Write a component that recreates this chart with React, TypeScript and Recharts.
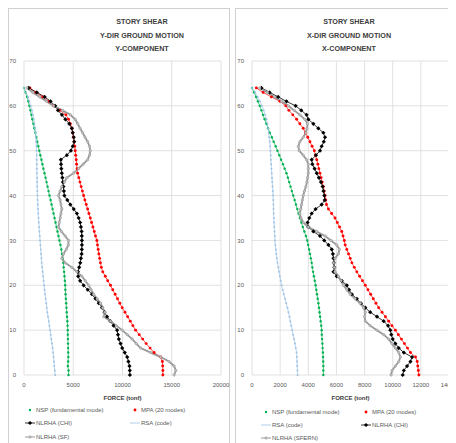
import React from 'react'
import { LineChart, Line, XAxis, YAxis, CartesianGrid, Label } from 'recharts'

// story levels, bottom to top
const STORIES = [
  0, 1, 2, 3, 4, 5, 6, 7, 8, 9, 10, 11, 12, 13, 14, 15, 16, 17, 18, 19, 20,
  21, 22, 23, 24, 25, 26, 27, 28, 29, 30, 31, 32, 33, 34, 35, 36, 37, 38, 39, 40,
  41, 42, 43, 44, 45, 46, 47, 48, 49, 50, 51, 52, 53, 54, 55, 56, 57, 58, 59, 60,
  61, 62, 63, 64,
]

// ── Y-dir ground motion, Y-component (tonf) ──
const Y_NSP = [
  4520, 4520, 4450, 4480, 4500, 4490, 4480, 4470, 4460, 4450, 4440, 4420, 4400, 4370, 4340, 4310,
  4280, 4250, 4220, 4200, 4180, 4150, 4110, 4070, 4030, 3990, 3930, 3860, 3790, 3700, 3600, 3500,
  3400, 3300, 3200, 3100, 3000, 2900, 2800, 2700, 2590, 2490, 2390, 2290, 2190, 2080, 1970, 1870,
  1770, 1660, 1560, 1450, 1350, 1250, 1150, 1050, 950, 850, 750, 650, 540, 430, 310, 170, 0,
]
const Y_MPA = [
  14100, 14100, 14080, 14050, 13880, 13200, 12800, 12400, 12050, 11700, 11330, 11060, 10790, 10520,
  10250, 9970, 9730, 9490, 9250, 9010, 8780, 8500, 8250, 8000, 7850, 7760, 7680, 7600, 7530, 7460,
  7400, 7260, 7130, 7000, 6860, 6730, 6590, 6460, 6320, 6180, 6050, 5930, 5800, 5680, 5560, 5440,
  5390, 5340, 5300, 5250, 5200, 5150, 5090, 5020, 4950, 4860, 4700, 4520, 4250, 3650, 3000, 2500,
  1900, 1200, 600,
]
const Y_CHI = [
  10750, 10740, 10710, 10600, 10480, 10230, 9970, 9800, 9630, 9540, 9450, 9100, 8770, 8430, 8170,
  7920, 7590, 7250, 6900, 6470, 6050, 5700, 5500, 5480, 5600, 5710, 5780, 5850, 5870, 5880, 5880,
  5870, 5850, 5780, 5700, 5550, 5370, 5050, 4700, 4400, 4100, 4050, 4000, 3950, 3900, 3840, 3790,
  3760, 3740, 4350, 4760, 4950, 5100, 5050, 4950, 4860, 4600, 4200, 3850, 3450, 3160, 2700, 2100,
  1300, 480,
]
const Y_RSA = [
  3160, 3120, 3080, 3040, 3000, 2960, 2900, 2840, 2770, 2710, 2650, 2580, 2510, 2440, 2370, 2310,
  2250, 2200, 2140, 2090, 2040, 1990, 1940, 1890, 1850, 1800, 1770, 1730, 1700, 1660, 1630, 1600,
  1560, 1530, 1500, 1470, 1440, 1420, 1400, 1380, 1360, 1350, 1340, 1330, 1320, 1310, 1300, 1300,
  1290, 1290, 1280, 1260, 1230, 1200, 1160, 1120, 1060, 990, 900, 800, 680, 550, 400, 220, 0,
]
const Y_SF = [
  15240, 15410, 15240, 14730, 13880, 12860, 11840, 11400, 10990, 10480, 9970, 9370, 8780, 8100,
  8200, 7990, 7760, 7420, 7070, 6810, 6560, 6220, 5880, 5370, 4860, 4180, 3840, 4010, 4290, 4500,
  4520, 4180, 3800, 3500, 3580, 3670, 3750, 3840, 3750, 3670, 3500, 3670, 3840, 4100, 4350, 5030,
  5540, 6000, 6460, 6650, 6730, 6650, 6460, 6200, 5950, 5700, 5450, 5200, 4700, 3900, 3000, 2300,
  1600, 900, 300,
]

// ── X-dir ground motion, X-component (tonf) ──
const X_NSP = [
  5070, 5070, 5070, 5060, 5050, 5040, 5020, 5000, 4980, 4960, 4950, 4920, 4880, 4840, 4800, 4760,
  4720, 4670, 4620, 4570, 4520, 4460, 4400, 4340, 4290, 4240, 4180, 4120, 4060, 3990, 3930, 3830,
  3720, 3610, 3510, 3400, 3310, 3220, 3120, 3030, 2930, 2830, 2740, 2640, 2550, 2450, 2320, 2200,
  2070, 1940, 1810, 1680, 1540, 1410, 1270, 1140, 1020, 900, 780, 670, 550, 420, 290, 150, 0,
]
const X_MPA = [
  11860, 11820, 11780, 11740, 11620, 11260, 11050, 10830, 10620, 10400, 10190, 9950, 9710, 9480,
  9240, 9000, 8810, 8620, 8430, 8240, 8050, 7850, 7650, 7450, 7270, 7100, 6980, 6860, 6740, 6620,
  6560, 6470, 6380, 6220, 6060, 5900, 5660, 5430, 5290, 5240, 5190, 5130, 5070, 4990, 4910, 4830,
  4750, 4680, 4600, 4510, 4430, 4270, 4120, 3960, 3800, 3640, 3400, 3170, 2900, 2620, 2400, 1980,
  1380, 790, 310,
]
const X_RSA = [
  3240, 3230, 3210, 3200, 3190, 3170, 3110, 3050, 2990, 2920, 2860, 2790, 2720, 2660, 2590, 2520,
  2430, 2350, 2260, 2180, 2100, 2040, 1980, 1920, 1870, 1810, 1770, 1730, 1700, 1660, 1630, 1620,
  1600, 1580, 1560, 1550, 1540, 1530, 1520, 1510, 1500, 1480, 1460, 1440, 1420, 1400, 1380, 1360,
  1340, 1330, 1310, 1290, 1260, 1220, 1180, 1140, 1100, 1030, 940, 830, 700, 560, 400, 220, 0,
]
const X_CHI = [
  10710, 10790, 11020, 11260, 11380, 10790, 10430, 10190, 10000, 9900, 9830, 9670, 9360, 8880,
  8400, 8050, 7740, 7450, 7100, 6900, 6740, 6380, 6020, 5790, 5850, 5810, 5790, 5750, 5670, 5430,
  5130, 4830, 4360, 4000, 3950, 4070, 4240, 4520, 4950, 5170, 5140, 5080, 5020, 4900, 4750, 4600,
  4450, 4290, 4240, 4550, 4830, 4950, 5100, 5190, 5070, 4710, 4360, 4000, 3880, 3500, 3100, 2450,
  1860, 1250, 670,
]
const X_SFERN = [
  9880, 9950, 10190, 10430, 10550, 10430, 10190, 9950, 9710, 9360, 8880, 8400, 8050, 8000, 8050,
  7930, 7690, 7330, 6980, 6740, 6500, 6330, 6140, 5900, 5850, 5790, 5900, 6140, 6210, 6020, 5610,
  5190, 4600, 4000, 3640, 3480, 3400, 3460, 3520, 3580, 3640, 3730, 3830, 3900, 3950, 4000, 4000,
  4000, 3880, 3640, 3360, 3290, 3400, 3640, 3830, 3900, 3950, 3760, 3400, 3000, 2570, 2100, 1600,
  1100, 550,
]

const Y_TICKS = [0, 10, 20, 30, 40, 50, 60, 70]
const LEFT_X_TICKS = [0, 5000, 10000, 15000, 20000]
const RIGHT_X_TICKS = [0, 2000, 4000, 6000, 8000, 10000, 12000, 14000]

const FONT = '"Liberation Sans", Arial, sans-serif'
const TICK = { fontSize: 6, fill: '#595959', fontFamily: FONT }
const GRID = '#d9d9d9'

type Kind = 'dot' | 'bigdot' | 'diamond' | 'small' | 'ring'

const SERIES: Record<string, { label: string; color: string; kind: Kind; width: number }> = {
  nsp:   { label: 'NSP (fundamental mode)', color: '#00b050', kind: 'dot',     width: 0.7 },
  mpa:   { label: 'MPA (20 modes)',         color: '#ff0000', kind: 'bigdot',  width: 0.7 },
  chi:   { label: 'NLRHA (CHI)',            color: '#000000', kind: 'diamond', width: 0.8 },
  rsa:   { label: 'RSA (code)',             color: '#9dc3e6', kind: 'small',   width: 0.7 },
  sf:    { label: 'NLRHA (SF)',             color: '#999999', kind: 'ring',    width: 1.8 },
  sfern: { label: 'NLRHA (SFERN)',          color: '#999999', kind: 'ring',    width: 1.8 },
}

function markerShape(kind: Kind, color: string, cx: number, cy: number, key?: any) {
  switch (kind) {
    case 'dot':
      return <circle key={key} cx={cx} cy={cy} r={1.2} fill={color} />
    case 'bigdot':
      return <circle key={key} cx={cx} cy={cy} r={1.45} fill={color} />
    case 'diamond':
      return <path key={key} d={`M${cx},${cy - 2.1}L${cx + 2.1},${cy}L${cx},${cy + 2.1}L${cx - 2.1},${cy}Z`} fill={color} />
    case 'small':
      return <circle key={key} cx={cx} cy={cy} r={1} fill={color} />
    default:
      return <circle key={key} cx={cx} cy={cy} r={1.2} fill="#c8c8c8" stroke={color} strokeWidth={0.6} />
  }
}

function dotFor(kind: Kind, color: string) {
  return (p: any) => {
    if (p.cx == null || p.cy == null) return <g key={p.index} />
    return markerShape(kind, color, p.cx, p.cy, p.index)
  }
}

function LegendItem({ id, x, y }: { id: string; x: number; y: number }) {
  const s = SERIES[id]
  const withLine = s.kind !== 'dot' && s.kind !== 'bigdot'
  return (
    <div style={{ position: 'absolute', left: x, top: y, display: 'flex', alignItems: 'center', whiteSpace: 'nowrap' }}>
      <svg width={10} height={6} style={{ display: 'block' }}>
        {withLine && <line x1={0} y1={3} x2={10} y2={3} stroke={s.color} strokeWidth={s.kind === 'ring' ? 1 : 0.8} />}
        {s.kind !== 'small' && markerShape(s.kind, s.color, 5, 3)}
      </svg>
      <span style={{ fontSize: 6, color: '#595959', fontFamily: FONT, marginLeft: 1 }}>{s.label}</span>
    </div>
  )
}

interface PanelProps {
  left: number
  width: number
  title: string[]
  titleX: number
  data: Record<string, number>[]
  order: string[]
  xMax: number
  xTicks: number[]
  yWidth: number
  marginRight: number
  legend: { id: string; x: number; y: number }[]
}

function Panel({ left, width, title, titleX, data, order, xMax, xTicks, yWidth, marginRight, legend }: PanelProps) {
  return (
    <div style={{ position: 'absolute', left, top: 0, width, height: 440, border: '1px solid #d0d0d0', boxSizing: 'border-box' }}>
      <div style={{ position: 'absolute', left: -1, top: -1, width, height: 440 }}>
        <div style={{
          position: 'absolute', left: titleX - 70, width: 140, top: 7, textAlign: 'center',
          fontFamily: FONT, fontWeight: 700, fontSize: 7.2, lineHeight: '13.5px', color: '#404040',
        }}>
          {title.map((t) => <div key={t}>{t}</div>)}
        </div>

        <LineChart
          layout="vertical"
          width={width}
          height={440}
          data={data}
          margin={{ top: 53, right: marginRight, bottom: 48, left: 0 }}
          style={{ position: 'absolute', left: 0, top: 0, overflow: 'visible' }}
        >
          <CartesianGrid stroke={GRID} strokeWidth={0.8} />
          <XAxis
            type="number" domain={[0, xMax]} ticks={xTicks} interval={0} height={25}
            tick={TICK} axisLine={false} tickLine={false} tickMargin={2}
          >
            <Label value="FORCE (tonf)" position="insideBottom" offset={0}
              style={{ fontSize: 6, fontWeight: 700, fill: '#404040', fontFamily: FONT }} />
          </XAxis>
          <YAxis
            type="number" dataKey="story" domain={[0, 70]} ticks={Y_TICKS} interval={0} width={yWidth}
            reversed tick={TICK} axisLine={false} tickLine={false} tickMargin={2}
          />
          {order.map((id) => (
            <Line
              key={id}
              dataKey={id}
              type="linear"
              stroke={SERIES[id].color}
              strokeWidth={SERIES[id].width}
              dot={dotFor(SERIES[id].kind, SERIES[id].color)}
              activeDot={false}
              isAnimationActive={false}
            />
          ))}
        </LineChart>

        {legend.map((l) => <LegendItem key={l.id} {...l} />)}
      </div>
    </div>
  )
}

export default function App() {
  const leftData = STORIES.map((s, i) => ({
    story: s, nsp: Y_NSP[i], mpa: Y_MPA[i], chi: Y_CHI[i], rsa: Y_RSA[i], sf: Y_SF[i],
  }))
  const rightData = STORIES.map((s, i) => ({
    story: s, nsp: X_NSP[i], mpa: X_MPA[i], rsa: X_RSA[i], chi: X_CHI[i], sfern: X_SFERN[i],
  }))

  return (
    <div style={{ position: 'relative', width: 448, height: 435 }}>
      <style>{'.recharts-surface { overflow: visible; }'}</style>
      <Panel
        left={0} width={222}
        title={['STORY SHEAR', 'Y-DIR GROUND MOTION', 'Y-COMPONENT']} titleX={134}
        data={leftData} order={['nsp', 'mpa', 'chi', 'rsa', 'sf']}
        xMax={20000} xTicks={LEFT_X_TICKS} yWidth={16} marginRight={9}
        legend={[
          { id: 'nsp', x: 17, y: 399 }, { id: 'mpa', x: 122, y: 399 },
          { id: 'chi', x: 17, y: 412 }, { id: 'rsa', x: 122, y: 412 },
          { id: 'sf', x: 17, y: 426 },
        ]}
      />
      <Panel
        left={227} width={221}
        title={['STORY SHEAR', 'X-DIR GROUND MOTION', 'X-COMPONENT']} titleX={114}
        data={rightData} order={['nsp', 'mpa', 'rsa', 'chi', 'sfern']}
        xMax={14000} xTicks={RIGHT_X_TICKS} yWidth={17} marginRight={7}
        legend={[
          { id: 'nsp', x: 26, y: 401 }, { id: 'mpa', x: 126, y: 401 },
          { id: 'rsa', x: 26, y: 414 }, { id: 'chi', x: 126, y: 414 },
          { id: 'sfern', x: 26, y: 427 },
        ]}
      />
    </div>
  )
}
